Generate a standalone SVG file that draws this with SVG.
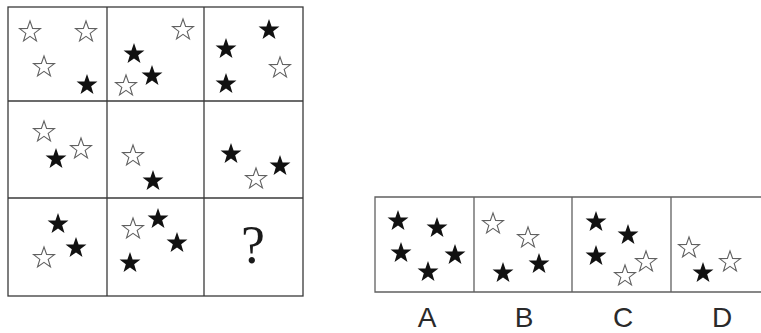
<svg xmlns="http://www.w3.org/2000/svg" width="761" height="333" viewBox="0 0 761 333">
<style>
.bg{fill:#ffffff}
.grid{fill:none;stroke:#3a3a3a;stroke-width:1.3}
.box{fill:none;stroke:#606060;stroke-width:1.3}
.lbl{font-family:"Liberation Sans",Arial,sans-serif;font-size:28px;fill:#2a2a2a;text-anchor:middle}
.q{font-family:"Liberation Serif","Times New Roman",serif;font-size:54px;fill:#1a1a1a;text-anchor:middle}
</style>
<defs>
<path id="star" d="M0,-11 L2.6,-3.56 L10.46,-3.4 L4.18,1.36 L6.47,8.9 L0,4.4 L-6.47,8.9 L-4.18,1.36 L-10.46,-3.4 L-2.6,-3.56 Z"/>
<use id="fs" href="#star" fill="#111111"/>
<use id="os" href="#star" fill="#ffffff" stroke="#606060" stroke-width="1.1"/>
</defs>
<rect class="bg" x="0" y="0" width="761" height="333"/>
<g id="connectors">
<rect class="grid" x="8" y="7" width="295" height="289"/>
<line class="grid" x1="107" y1="7" x2="107" y2="296"/>
<line class="grid" x1="204" y1="7" x2="204" y2="296"/>
<line class="grid" x1="8" y1="101" x2="303" y2="101"/>
<line class="grid" x1="8" y1="198" x2="303" y2="198"/>
<path class="box" d="M762,197 H375 V292 H762"/>
<line class="box" x1="474" y1="197" x2="474" y2="292"/>
<line class="box" x1="572" y1="197" x2="572" y2="292"/>
<line class="box" x1="671" y1="197" x2="671" y2="292"/>
</g>
<g id="cell-1-1">
<use href="#os" x="30" y="32"/>
<use href="#os" x="86" y="32"/>
<use href="#os" x="44" y="67"/>
<use href="#fs" x="87" y="85"/>
</g>
<g id="cell-1-2">
<use href="#os" x="183" y="30"/>
<use href="#fs" x="134" y="54"/>
<use href="#fs" x="152" y="76"/>
<use href="#os" x="126" y="86"/>
</g>
<g id="cell-1-3">
<use href="#fs" x="269" y="30"/>
<use href="#fs" x="226" y="49"/>
<use href="#os" x="280" y="68"/>
<use href="#fs" x="226" y="84"/>
</g>
<g id="cell-2-1">
<use href="#os" x="44" y="132"/>
<use href="#os" x="81" y="149"/>
<use href="#fs" x="56" y="159"/>
</g>
<g id="cell-2-2">
<use href="#os" x="133" y="156"/>
<use href="#fs" x="153" y="181"/>
</g>
<g id="cell-2-3">
<use href="#fs" x="231" y="154"/>
<use href="#os" x="256" y="179"/>
<use href="#fs" x="280" y="166"/>
</g>
<g id="cell-3-1">
<use href="#fs" x="58" y="224"/>
<use href="#fs" x="76" y="248"/>
<use href="#os" x="44" y="258"/>
</g>
<g id="cell-3-2">
<use href="#os" x="133" y="229"/>
<use href="#fs" x="158" y="219"/>
<use href="#fs" x="177" y="243"/>
<use href="#fs" x="130" y="263"/>
</g>
<g id="cell-3-3">
<text class="q" x="253" y="263">?</text>
</g>
<g id="option-A">
<use href="#fs" x="398" y="221"/>
<use href="#fs" x="437" y="228"/>
<use href="#fs" x="401" y="253"/>
<use href="#fs" x="455" y="255"/>
<use href="#fs" x="428" y="272"/>
<text class="lbl" x="427" y="327">A</text>
</g>
<g id="option-B">
<use href="#os" x="493" y="224"/>
<use href="#os" x="528" y="238"/>
<use href="#fs" x="503" y="273"/>
<use href="#fs" x="539" y="264"/>
<text class="lbl" x="524" y="327">B</text>
</g>
<g id="option-C">
<use href="#fs" x="596" y="222"/>
<use href="#fs" x="628" y="235"/>
<use href="#fs" x="596" y="256"/>
<use href="#os" x="646" y="262"/>
<use href="#os" x="625" y="276"/>
<text class="lbl" x="623" y="327">C</text>
</g>
<g id="option-D">
<use href="#os" x="689" y="248"/>
<use href="#fs" x="703" y="273"/>
<use href="#os" x="730" y="262"/>
<text class="lbl" x="722" y="327">D</text>
</g>
</svg>
